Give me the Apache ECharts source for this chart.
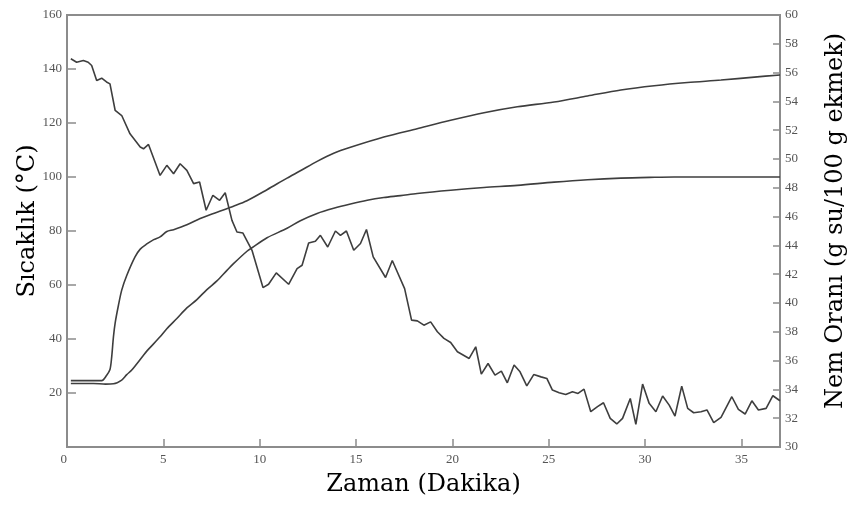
<!DOCTYPE html>
<html>
<head>
<meta charset="utf-8">
<script src="https://cdn.jsdelivr.net/npm/echarts@6/dist/echarts.min.js"></script>
<style>html,body{margin:0;padding:0;background:#fff}#c{width:851px;height:506px}</style>
</head>
<body>
<div id="c"></div>
<script>
// Time (min) and temperature of the fast-heating curve (left axis, °C)
const upperTime = [0.2,1.8,2.06,2.23,2.32,2.41,2.5,2.67,2.84,3.1,3.53,3.8,4.14,4.5,4.83,5.18,5.53,6.22,6.91,7.6,8.64,9.34,10.38,11.42,12.11,12.98,13.84,14.71,16.44,18.17,19.91,21.64,23.37,25.28,27.01,28.74,30.47,32.2,33.94,35.67,37.0];
const upperTemp = [24.6,24.6,26.6,28.7,33.4,40.8,46,52.5,58.1,63.5,70.4,73.3,75.2,76.8,77.8,79.8,80.5,82.3,84.6,86.5,89.2,91.2,95.3,99.6,102.3,105.8,108.8,111.0,114.8,117.9,121.0,123.8,126.0,127.8,130.0,132.2,133.8,135.0,135.9,137.0,137.8];

// Time (min) and temperature of the slow-heating curve (left axis, °C)
const lowerTime = [0.2,1.37,2.0,2.41,2.84,3.1,3.36,3.97,4.14,4.83,5.18,5.7,6.22,6.74,7.26,7.78,8.3,8.64,9.34,9.6,10.38,11.42,12.11,12.98,13.84,14.71,15.58,16.44,17.31,18.17,19.91,21.64,23.37,25.28,27.01,28.74,30.5,31.5,37.0];
const lowerTemp = [23.5,23.5,23.3,23.4,24.8,26.8,28.5,34.0,35.5,40.8,43.8,47.6,51.5,54.6,58.3,61.5,65.4,67.9,72.5,73.8,77.5,81.0,83.8,86.5,88.4,90.0,91.4,92.4,93.1,93.9,95.1,96.1,96.9,98.1,99.0,99.6,99.9,100,100];

// Time (min) and moisture content (right axis, g water / 100 g bread)
const moistTime = [0.2,0.5,0.85,1.1,1.28,1.54,1.8,2.05,2.23,2.5,2.84,3.27,3.8,3.97,4.23,4.83,5.18,5.53,5.87,6.22,6.57,6.88,7.22,7.57,7.92,8.21,8.56,8.82,9.13,9.6,10.17,10.46,10.86,11.5,11.94,12.2,12.54,12.89,13.15,13.53,13.93,14.19,14.5,14.88,15.23,15.54,15.89,16.53,16.88,17.52,17.88,18.18,18.52,18.87,19.22,19.56,19.91,20.26,20.87,21.21,21.5,21.85,22.21,22.54,22.85,23.2,23.51,23.86,24.22,24.6,24.9,25.19,25.54,25.88,26.23,26.52,26.83,27.18,27.53,27.84,28.19,28.53,28.83,29.23,29.52,29.87,30.21,30.56,30.91,31.25,31.55,31.9,32.21,32.52,32.9,33.21,33.56,33.94,34.5,34.84,35.19,35.54,35.88,36.28,36.63,37.0];
const moistValue = [56.96,56.72,56.84,56.72,56.49,55.45,55.61,55.35,55.22,53.37,53.02,51.75,50.83,50.71,51.01,48.86,49.56,48.98,49.67,49.21,48.29,48.40,46.44,47.48,47.13,47.66,45.74,44.93,44.86,43.66,41.07,41.30,42.09,41.30,42.39,42.62,44.17,44.29,44.70,43.89,45.00,44.70,45.00,43.66,44.13,45.10,43.20,41.77,42.95,41.0,38.81,38.76,38.46,38.69,38.0,37.54,37.26,36.61,36.15,36.96,35.06,35.8,34.99,35.27,34.46,35.69,35.22,34.25,35.03,34.87,34.76,33.95,33.77,33.65,33.83,33.72,34.02,32.45,32.8,33.07,31.99,31.6,31.99,33.37,31.57,34.37,33.03,32.45,33.54,32.91,32.15,34.23,32.68,32.38,32.45,32.57,31.69,32.06,33.49,32.61,32.29,33.21,32.57,32.68,33.56,33.21];

const xName = 'Zaman (Dakika)';
const yLeftName = 'Sıcaklık (°C)';
const yRightName = 'Nem Oranı (g su/100 g ekmek)';

const zip = (a, b) => a.map((v, i) => [v, b[i]]);

const axisGray = '#8c8c8c';
const lineGray = '#3e3e3e';
const labelStyle = { fontFamily: 'Liberation Serif', fontSize: 13, color: '#555' };
const nameStyle = { fontFamily: 'DejaVu Serif', fontSize: 24, color: '#000' };

const chart = echarts.init(document.getElementById('c'), null, { renderer: 'canvas' });
chart.setOption({
  animation: false,
  backgroundColor: '#fff',
  grid: { left: 67, right: 71, top: 15, bottom: 59, show: true, borderColor: axisGray, borderWidth: 2, backgroundColor: 'transparent', outerBoundsMode: 'none' },
  xAxis: {
    type: 'value', min: 0, max: 37, interval: 5,
    name: xName, nameLocation: 'middle', nameGap: 26, nameTextStyle: nameStyle,
    axisLine: { lineStyle: { color: axisGray, width: 2 } },
    axisTick: { inside: true, length: 8, lineStyle: { color: axisGray, width: 1.5 } },
    axisLabel: Object.assign({ margin: 6, showMaxLabel: false, alignMinLabel: 'right' }, labelStyle),
    splitLine: { show: false }
  },
  yAxis: [{
    type: 'value', min: 0, max: 160, interval: 20, position: 'left',
    name: yLeftName, nameLocation: 'middle', nameRotate: 90, nameGap: 27, nameMoveOverlap: false,
    nameTextStyle: Object.assign({ padding: [0, 0, 0, 20] }, nameStyle),
    axisLine: { show: true, lineStyle: { color: axisGray, width: 2 } },
    axisTick: { show: true, inside: true, length: 9, lineStyle: { color: axisGray, width: 1.5 } },
    axisLabel: Object.assign({ margin: 5, showMinLabel: false }, labelStyle),
    splitLine: { show: false }
  }, {
    type: 'value', min: 30, max: 60, interval: 2, position: 'right',
    name: yRightName, nameLocation: 'middle', nameRotate: 90, nameGap: 44,
    nameTextStyle: Object.assign({ padding: [0, 0, 0, 20] }, nameStyle),
    axisLine: { show: true, lineStyle: { color: axisGray, width: 2 } },
    axisTick: { show: true, inside: true, length: 7, lineStyle: { color: axisGray, width: 1.5 } },
    axisLabel: Object.assign({ margin: 5 }, labelStyle),
    splitLine: { show: false }
  }],
  series: [
    { type: 'line', yAxisIndex: 0, data: zip(upperTime, upperTemp), showSymbol: false, smooth: 0.3, lineStyle: { color: lineGray, width: 1.6 } },
    { type: 'line', yAxisIndex: 0, data: zip(lowerTime, lowerTemp), showSymbol: false, smooth: 0.3, lineStyle: { color: lineGray, width: 1.6 } },
    { type: 'line', yAxisIndex: 1, data: zip(moistTime, moistValue), showSymbol: false, lineStyle: { color: lineGray, width: 1.6 } }
  ]
});
</script>
</body>
</html>
